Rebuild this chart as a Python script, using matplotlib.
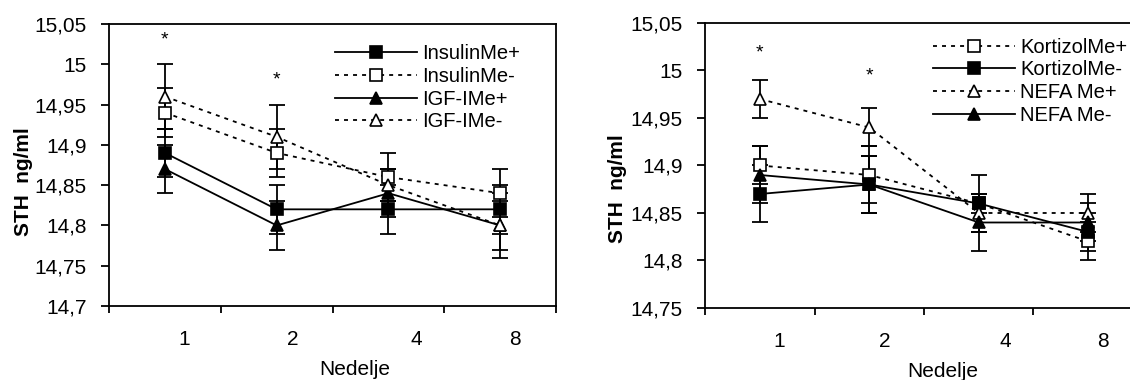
import matplotlib
matplotlib.use("Agg")
import matplotlib.pyplot as plt
from matplotlib.ticker import FixedLocator, FuncFormatter
from matplotlib.lines import Line2D

plt.rcParams['font.family'] = ['Liberation Sans', 'DejaVu Sans']

weeks = ["1", "2", "4", "8"]

# Left panel
insulin_pos = [14.89, 14.82, 14.82, 14.82]
insulin_pos_err = [0.03, 0.03, 0.03, 0.03]
insulin_neg = [14.94, 14.89, 14.86, 14.84]
insulin_neg_err = [0.03, 0.03, 0.03, 0.03]
igf_pos = [14.87, 14.80, 14.84, 14.80]
igf_pos_err = [0.03, 0.03, 0.03, 0.03]
igf_neg = [14.96, 14.91, 14.85, 14.80]
igf_neg_err = [0.04, 0.04, 0.02, 0.04]
left_stars = [15.03, 14.98]

# Right panel
kort_pos = [14.90, 14.89, 14.86, 14.82]
kort_pos_err = [0.02, 0.03, 0.03, 0.02]
kort_neg = [14.87, 14.88, 14.86, 14.83]
kort_neg_err = [0.03, 0.03, 0.01, 0.02]
nefa_pos = [14.97, 14.94, 14.85, 14.85]
nefa_pos_err = [0.02, 0.02, 0.02, 0.02]
nefa_neg = [14.89, 14.88, 14.84, 14.84]
nefa_neg_err = [0.03, 0.03, 0.03, 0.02]
right_stars = [15.018, 14.994]

left_series = [
    ("InsulinMe+", insulin_pos, insulin_pos_err, 's', True, '-'),
    ("InsulinMe-", insulin_neg, insulin_neg_err, 's', False, '--'),
    ("IGF-IMe+", igf_pos, igf_pos_err, '^', True, '-'),
    ("IGF-IMe-", igf_neg, igf_neg_err, '^', False, '--'),
]
right_series = [
    ("KortizolMe+", kort_pos, kort_pos_err, 's', False, '--'),
    ("KortizolMe-", kort_neg, kort_neg_err, 's', True, '-'),
    ("NEFA Me+", nefa_pos, nefa_pos_err, '^', False, '--'),
    ("NEFA Me-", nefa_neg, nefa_neg_err, '^', True, '-'),
]

FS = 15
LFS = 14.5
label_offsets = [0.175, 0.145, 0.245, 0.135]

def fmt(v, pos):
    s = ("%.2f" % v).rstrip('0').rstrip('.')
    return s.replace('.', ',')

fig = plt.figure(figsize=(11.3, 3.8), dpi=100)
axL = fig.add_axes([0.0965, 0.1947, 0.3956, 0.7421])
axR = fig.add_axes([0.6239, 0.1895, 0.3876, 0.7500])

def draw(ax, series, ylim, stars, leg_anchor, xlab_x, ylab_xy):
    x = list(range(len(weeks)))
    handles = []
    for name, vals, errs, mk, filled, ls in series:
        dash = (0, (2.2, 2.8)) if ls == '--' else '-'
        ax.plot(x, vals, color='black', lw=1.3, linestyle=dash, zorder=2)
        ax.errorbar(x, vals, yerr=errs, fmt='none', ecolor='black',
                    elinewidth=1.3, capsize=6, capthick=1.3, zorder=3)
        ms = 8 if mk == 's' else 9
        ax.plot(x, vals, linestyle='none', marker=mk, ms=ms,
                mfc='black' if filled else 'white', mec='black', mew=1.2, zorder=4)
        handles.append(Line2D([0], [0], color='black', lw=1.3, linestyle=dash,
                              marker=mk, ms=ms, mfc='black' if filled else 'white',
                              mec='black', mew=1.2))
    for i, s in enumerate(stars):
        ax.text(i, s, '*', ha='center', va='center', fontsize=14)
    ax.set_xlim(-0.5, len(weeks) - 0.5)
    ax.set_ylim(*ylim)
    yt = []
    v = ylim[0]
    while v <= ylim[1] + 1e-9:
        yt.append(round(v, 2))
        v += 0.05
    ax.set_yticks(yt)
    ax.yaxis.set_major_formatter(FuncFormatter(fmt))
    ax.xaxis.set_major_locator(FixedLocator([i + o for i, o in zip(x, label_offsets)]))
    ax.set_xticklabels(weeks)
    ax.xaxis.set_minor_locator(FixedLocator([i - 0.5 for i in range(len(weeks) + 1)]))
    ax.tick_params(axis='x', which='major', length=0, pad=17, labelsize=FS)
    ax.tick_params(axis='x', which='minor', length=5, width=1.3, direction='out')
    ax.tick_params(axis='y', length=6, width=1.3, direction='out', pad=10, labelsize=FS)
    for sp in ax.spines.values():
        sp.set_linewidth(1.3)
    ax.set_xlabel("Nedelje", fontsize=FS)
    ax.xaxis.set_label_coords(xlab_x, -0.19)
    ax.set_ylabel("STH  ng/ml", fontsize=FS, fontweight='bold')
    ax.yaxis.set_label_coords(*ylab_xy)
    ax.legend(handles, [s[0] for s in series], loc='upper left',
              bbox_to_anchor=leg_anchor, frameon=False, fontsize=LFS,
              handlelength=4.1, handletextpad=0.25, labelspacing=0.18,
              borderpad=0, borderaxespad=0)

draw(axL, left_series, (14.7, 15.05), left_stars, (0.505, 0.928), 0.55, (-0.17, 0.44))
draw(axR, right_series, (14.75, 15.05), right_stars, (0.52, 0.948), 0.543, (-0.178, 0.42))

fig.savefig("out.png", dpi=100)
